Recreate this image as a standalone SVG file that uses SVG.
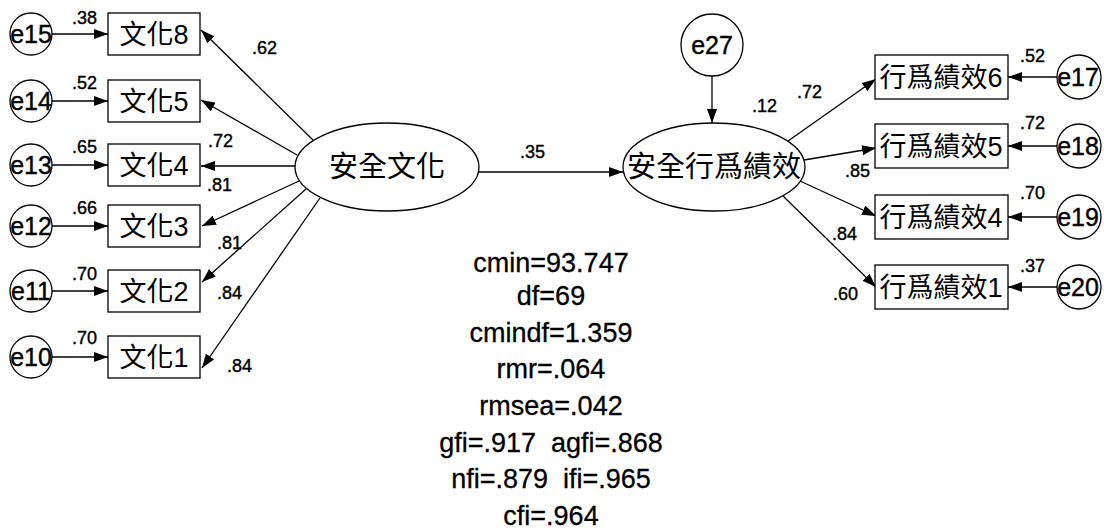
<svg xmlns="http://www.w3.org/2000/svg" width="1104" height="531" viewBox="0 0 1104 531">
  <defs>
    <marker id="arrow" viewBox="0 0 14 10" refX="14" refY="5" markerWidth="14" markerHeight="10" markerUnits="userSpaceOnUse" orient="auto">
      <path d="M0,0 L14,5 L0,10 z" fill="#000"/>
    </marker>
    <style>
      .box { fill: #fff; stroke: #000; stroke-width: 1.3; }
      .err { fill: #fff; stroke: #000; stroke-width: 1.3; }
      .lat { fill: #fff; stroke: #000; stroke-width: 1.3; }
      .edge { fill: none; stroke: #000; stroke-width: 1.3; marker-end: url(#arrow); }
      .cjk { font-family: "Liberation Sans", "Noto Sans CJK TC", sans-serif; fill: #000; text-anchor: middle; }
      .obs { font-size: 27px; }
      .latt { font-size: 29px; }
      .etxt { font-family: "Liberation Sans", Arial, sans-serif; font-size: 25px; fill: #000; stroke: #000; stroke-width: 0.4; text-anchor: middle; }
      .coef { font-family: "Liberation Sans", Arial, sans-serif; font-size: 18px; fill: #000; stroke: #000; stroke-width: 0.4; }
      .fit { font-family: "Liberation Sans", Arial, sans-serif; font-size: 27px; fill: #000; stroke: #000; stroke-width: 0.3; text-anchor: middle; white-space: pre; }
    </style>
  </defs>

  <!-- connectors -->
  <g id="connectors">
    <!-- error terms to culture indicators -->
    <line class="edge" x1="52" y1="34" x2="108" y2="34"/>
    <line class="edge" x1="52" y1="101" x2="108" y2="101"/>
    <line class="edge" x1="52" y1="165" x2="108" y2="165"/>
    <line class="edge" x1="52" y1="226" x2="108" y2="226"/>
    <line class="edge" x1="52" y1="291" x2="108" y2="291"/>
    <line class="edge" x1="52" y1="357" x2="108" y2="357"/>
    <!-- safety culture loadings -->
    <line class="edge" x1="313" y1="140" x2="201" y2="30"/>
    <line class="edge" x1="297" y1="155" x2="201" y2="100"/>
    <line class="edge" x1="295" y1="166" x2="201" y2="166"/>
    <line class="edge" x1="299" y1="181" x2="202" y2="226"/>
    <line class="edge" x1="306" y1="189" x2="202" y2="282"/>
    <line class="edge" x1="320" y1="198" x2="202" y2="368"/>
    <!-- structural path -->
    <line class="edge" x1="479" y1="172" x2="623" y2="172"/>
    <!-- disturbance -->
    <line class="edge" x1="712" y1="76" x2="712" y2="123"/>
    <!-- safety behaviour loadings -->
    <line class="edge" x1="788" y1="141" x2="876" y2="79"/>
    <line class="edge" x1="804" y1="160" x2="876" y2="148"/>
    <line class="edge" x1="800" y1="181" x2="876" y2="216"/>
    <line class="edge" x1="783" y1="196" x2="876" y2="287"/>
    <!-- error terms to behaviour indicators -->
    <line class="edge" x1="1057" y1="77" x2="1008" y2="77"/>
    <line class="edge" x1="1057" y1="146" x2="1008" y2="146"/>
    <line class="edge" x1="1057" y1="217" x2="1008" y2="217"/>
    <line class="edge" x1="1057" y1="287" x2="1008" y2="287"/>
  </g>

  <!-- latent variables -->
  <g id="safety-culture">
    <ellipse class="lat" cx="387" cy="167" rx="92" ry="44"/>
    <text class="cjk latt" x="387" y="177">安全文化</text>
  </g>
  <g id="safety-behaviour">
    <ellipse class="lat" cx="714" cy="167" rx="91" ry="44"/>
    <text class="cjk latt" x="714" y="177">安全行爲績效</text>
  </g>
  <g id="e27">
    <circle class="err" cx="712" cy="45" r="31"/>
    <text class="etxt" x="712" y="54">e27</text>
  </g>

  <!-- culture indicators -->
  <g id="culture8"><rect class="box" x="108" y="13" width="92" height="42"/><text class="cjk obs" x="154" y="44">文化8</text></g>
  <g id="culture5"><rect class="box" x="108" y="80" width="92" height="42"/><text class="cjk obs" x="154" y="111">文化5</text></g>
  <g id="culture4"><rect class="box" x="108" y="144" width="92" height="42"/><text class="cjk obs" x="154" y="175">文化4</text></g>
  <g id="culture3"><rect class="box" x="108" y="205" width="92" height="42"/><text class="cjk obs" x="154" y="236">文化3</text></g>
  <g id="culture2"><rect class="box" x="108" y="270" width="92" height="42"/><text class="cjk obs" x="154" y="301">文化2</text></g>
  <g id="culture1"><rect class="box" x="108" y="336" width="92" height="42"/><text class="cjk obs" x="154" y="367">文化1</text></g>

  <!-- culture error terms -->
  <g id="e15"><circle class="err" cx="31" cy="34" r="21"/><text class="etxt" x="31" y="43">e15</text></g>
  <g id="e14"><circle class="err" cx="31" cy="101" r="21"/><text class="etxt" x="31" y="110">e14</text></g>
  <g id="e13"><circle class="err" cx="31" cy="165" r="21"/><text class="etxt" x="31" y="174">e13</text></g>
  <g id="e12"><circle class="err" cx="31" cy="226" r="21"/><text class="etxt" x="31" y="235">e12</text></g>
  <g id="e11"><circle class="err" cx="31" cy="291" r="21"/><text class="etxt" x="31" y="300">e11</text></g>
  <g id="e10"><circle class="err" cx="31" cy="357" r="21"/><text class="etxt" x="31" y="366">e10</text></g>

  <!-- behaviour indicators -->
  <g id="behaviour6"><rect class="box" x="875" y="55" width="133" height="44"/><text class="cjk obs" x="941" y="87">行爲績效6</text></g>
  <g id="behaviour5"><rect class="box" x="875" y="124" width="133" height="44"/><text class="cjk obs" x="941" y="156">行爲績效5</text></g>
  <g id="behaviour4"><rect class="box" x="875" y="195" width="133" height="44"/><text class="cjk obs" x="941" y="227">行爲績效4</text></g>
  <g id="behaviour1"><rect class="box" x="875" y="265" width="133" height="44"/><text class="cjk obs" x="941" y="297">行爲績效1</text></g>

  <!-- behaviour error terms -->
  <g id="e17"><circle class="err" cx="1079" cy="77" r="22"/><text class="etxt" x="1078" y="86">e17</text></g>
  <g id="e18"><circle class="err" cx="1079" cy="146" r="22"/><text class="etxt" x="1078" y="155">e18</text></g>
  <g id="e19"><circle class="err" cx="1079" cy="217" r="22"/><text class="etxt" x="1078" y="226">e19</text></g>
  <g id="e20"><circle class="err" cx="1079" cy="287" r="22"/><text class="etxt" x="1078" y="296">e20</text></g>

  <!-- squared multiple correlations and loadings -->
  <g id="coefficients">
    <text class="coef" x="72" y="24">.38</text>
    <text class="coef" x="72" y="89">.52</text>
    <text class="coef" x="72" y="153">.65</text>
    <text class="coef" x="72" y="214">.66</text>
    <text class="coef" x="72" y="280">.70</text>
    <text class="coef" x="72" y="344">.70</text>

    <text class="coef" x="252" y="54">.62</text>
    <text class="coef" x="208" y="147">.72</text>
    <text class="coef" x="207" y="191">.81</text>
    <text class="coef" x="217" y="249">.81</text>
    <text class="coef" x="217" y="299">.84</text>
    <text class="coef" x="227" y="372">.84</text>

    <text class="coef" x="520" y="158">.35</text>
    <text class="coef" x="752" y="112">.12</text>
    <text class="coef" x="797" y="98">.72</text>
    <text class="coef" x="845" y="177">.85</text>
    <text class="coef" x="832" y="240">.84</text>
    <text class="coef" x="833" y="300">.60</text>

    <text class="coef" x="1020" y="62">.52</text>
    <text class="coef" x="1020" y="129">.72</text>
    <text class="coef" x="1020" y="199">.70</text>
    <text class="coef" x="1020" y="272">.37</text>
  </g>

  <!-- model fit indices -->
  <g id="fit-indices">
    <text class="fit" x="551" y="272">cmin=93.747</text>
    <text class="fit" x="551" y="305">df=69</text>
    <text class="fit" x="551" y="342">cmindf=1.359</text>
    <text class="fit" x="551" y="378">rmr=.064</text>
    <text class="fit" x="551" y="415">rmsea=.042</text>
    <text class="fit" x="551" y="452">gfi=.917  agfi=.868</text>
    <text class="fit" x="551" y="488">nfi=.879  ifi=.965</text>
    <text class="fit" x="551" y="525">cfi=.964</text>
  </g>
</svg>
